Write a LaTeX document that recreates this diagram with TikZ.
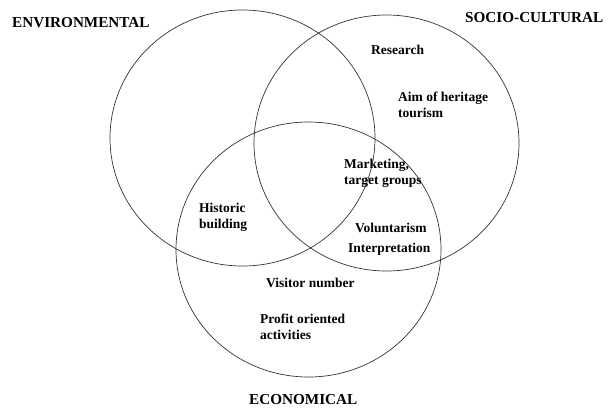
\documentclass[tikz,border=0pt]{standalone}
\usepackage{fontspec}
\setmainfont{Liberation Serif}
\begin{document}
\begin{tikzpicture}[x=1pt,y=-1pt,
  ring/.style={draw=black!80,line width=0.7pt},
  outer/.style={font=\bfseries\fontsize{15.2}{17}\selectfont,inner sep=0pt,anchor=west},
  inner/.style={font=\bfseries\fontsize{13.5}{16}\selectfont,inner sep=0pt,anchor=west,align=left}]
\useasboundingbox (0,0) rectangle (608,408);
\draw[ring] (242.5,138) ellipse [x radius=132.5,y radius=128];
\draw[ring] (386.5,143) ellipse [x radius=132.5,y radius=128];
\draw[ring] (308.5,249.5) ellipse [x radius=132.5,y radius=127.5];
\node[outer] (env) at (12,23) {ENVIRONMENTAL};
\node[outer] (soc) at (465,18) {SOCIO-CULTURAL};
\node[outer] (eco) at (249,400) {ECONOMICAL};
\node[inner] (res) at (371,50) {Research};
\node[inner,anchor=north west] (aim) at (398,92) {Aim of heritage\\tourism};
\node[inner,anchor=north west] (mkt) at (344,159) {Marketing,\\target groups};
\node[inner,anchor=north west] (his) at (199,203) {Historic\\building};
\node[inner] (vol) at (355,228) {Voluntarism};
\node[inner] (int) at (348,249) {Interpretation};
\node[inner] (vis) at (266,283) {Visitor number};
\node[inner,anchor=north west] (pro) at (260,314) {Profit oriented\\activities};
\end{tikzpicture}
\end{document}
